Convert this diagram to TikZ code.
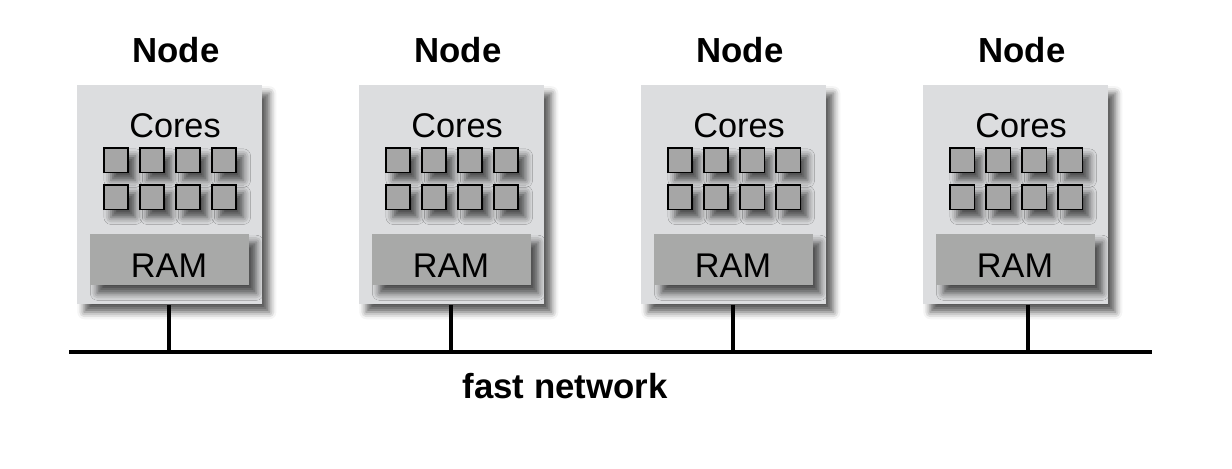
\documentclass[tikz,border=0pt]{standalone}
\usepackage{fontspec}
\setmainfont{Liberation Sans}
\usepackage{xcolor}
\definecolor{boxgray}{HTML}{DCDDDF}
\definecolor{ramgray}{HTML}{A8A9A8}
\definecolor{coregray}{HTML}{A6A6A6}
\usetikzlibrary{positioning, shadows.blur}

\tikzset{
  softshadow/.style={blur shadow={shadow xshift=4pt, shadow yshift=-4.5pt,
      shadow blur radius=4pt, shadow opacity=65}},
  nodebox/.style={fill=boxgray, minimum width=3.7cm, minimum height=4.38cm,
      anchor=north west, inner sep=0pt, softshadow},
  corebox/.style={fill=coregray, draw=black, line width=1.1pt, minimum size=0.49cm,
      anchor=north west, inner sep=0pt, softshadow},
  rambox/.style={fill=ramgray, minimum width=3.18cm, minimum height=1.02cm,
      anchor=north west, inner sep=0pt, softshadow},
  bigtext/.style={font=\fontsize{19.5}{22}\selectfont, anchor=base, inner sep=0pt},
  boldtext/.style={bigtext, font=\fontsize{19.8}{22}\selectfont\bfseries},
  wire/.style={black, line width=2.3pt}
}

\begin{document}
\begin{tikzpicture}[x=0.02cm, y=-0.02cm]
  \useasboundingbox (0,0) rectangle (1232,468);

  % the four compute nodes
  \foreach \i/\bx in {1/77, 2/359, 3/641, 4/923} {
    \node[boldtext] (title\i) at (\bx+99,62) {Node};
    \node[nodebox] (box\i) at (\bx,85) {};
    \node[bigtext] (cores\i) at (\bx+98,137) {Cores};
    % 2 x 4 cores
    \foreach \r in {0,1} {
      \foreach \c in {0,1,2,3} {
        \node[corebox] (core\i-\r-\c) at ({\bx+26+36*\c},{147+37*\r}) {};
      }
    }
    \node[rambox] (ram\i) at (\bx+13,234) {};
    \node[bigtext] (ramlabel\i) at (\bx+92,277) {RAM};
  }

  % network
  \coordinate (netL) at (69,352);
  \coordinate (netR) at (1152,352);
  \draw[wire] (netL) -- (netR);
  \foreach \i/\tx in {1/169, 2/451, 3/733, 4/1028} {
    \coordinate (tap\i) at (\tx,352);
    \draw[black, line width=2pt] (box\i.south -| tap\i) -- (tap\i);
  }
  \node[boldtext] (netlabel) at (565,398) {fast network};
\end{tikzpicture}
\end{document}
